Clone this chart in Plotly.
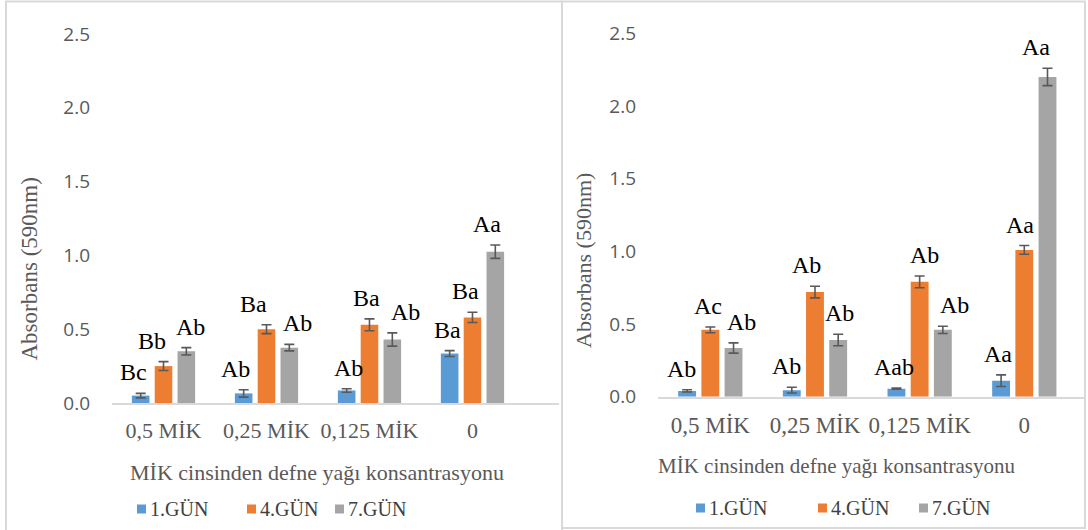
import plotly.graph_objects as go

categories = ["0,5 MİK", "0,25 MİK", "0,125 MİK", "0"]
series_names = ["1.GÜN", "4.GÜN", "7.GÜN"]
colors = ["#5B9BD5", "#ED7D31", "#A5A5A5"]

# Left panel
left_values = [
    [0.05, 0.065, 0.085, 0.335],
    [0.25, 0.50, 0.53, 0.58],
    [0.35, 0.375, 0.43, 1.025],
]
left_errors = [
    [0.015, 0.025, 0.012, 0.02],
    [0.03, 0.03, 0.04, 0.035],
    [0.025, 0.022, 0.045, 0.045],
]
left_labels = [
    ["Bc", "Ab", "Ab", "Ba"],
    ["Bb", "Ba", "Ba", "Ba"],
    ["Ab", "Ab", "Ab", "Aa"],
]
# horizontal nudges of the letter labels (px), as placed in the original
left_label_dx = [
    [-7, -8, 2, -2],
    [-12, -13, -3, -7],
    [4, 8, 13, -8],
]

# Right panel
right_values = [
    [0.04, 0.045, 0.055, 0.11],
    [0.46, 0.72, 0.79, 1.01],
    [0.335, 0.39, 0.46, 2.20],
]
right_errors = [
    [0.008, 0.02, 0.004, 0.04],
    [0.02, 0.04, 0.04, 0.03],
    [0.035, 0.04, 0.025, 0.06],
]
right_labels = [
    ["Ab", "Ab", "Aab", "Aa"],
    ["Ac", "Ab", "Ab", "Aa"],
    ["Ab", "Ab", "Ab", "Aa"],
]
right_label_dx = [
    [-6, -5, -2, -3],
    [-2, -8, 5, -4],
    [8, 1, 12, -12],
]

y_ticks = [0.0, 0.5, 1.0, 1.5, 2.0, 2.5]
y_title = "Absorbans (590nm)"
x_title = "MİK cinsinden defne yağı konsantrasyonu"

W, H = 1088, 530
SERIF = "Liberation Serif, Times New Roman, serif"
SANS = "Open Sans, Noto Sans, sans-serif"
GRAY_TXT = "#595959"
BARGAP = 0.335
BARGROUPGAP = 0.23
slot = (1 - BARGAP) / 3

fig = go.Figure()
xpos = list(range(len(categories)))

panels = [
    ("x", "y", left_values, left_errors, left_labels, left_label_dx),
    ("x2", "y2", right_values, right_errors, right_labels, right_label_dx),
]
annotations = []
for xa, ya, vals, errs, labs, dxs in panels:
    for j, name in enumerate(series_names):
        fig.add_trace(go.Bar(
            x=xpos, y=vals[j], name=name, xaxis=xa, yaxis=ya,
            marker=dict(color=colors[j], line=dict(width=0)),
            error_y=dict(type="data", array=errs[j], visible=True,
                         color="#595959", thickness=1.6, width=5),
            showlegend=False,
        ))
        for i in range(len(categories)):
            annotations.append(dict(
                x=i + (j - 1) * slot, y=vals[j][i] + errs[j][i],
                xref=xa, yref=ya, text=labs[j][i], showarrow=False,
                xanchor="center", yanchor="bottom", yshift=6, xshift=dxs[j][i],
                font=dict(family=SERIF, size=24, color="#000000"),
            ))

def xaxis_cfg(domain, rng, fs, anchor):
    return dict(domain=domain, range=rng, tickvals=xpos, ticktext=categories,
                showgrid=False, zeroline=False, showline=True, anchor=anchor,
                linecolor="#D9D9D9", linewidth=1.5, ticks="",
                ticklabelstandoff=7, automargin=False,
                tickfont=dict(family=SERIF, size=fs, color=GRAY_TXT),
                fixedrange=True)

def yaxis_cfg(domain, anchor):
    return dict(domain=domain, range=[0, 2.5], tickvals=y_ticks,
                tickformat=".1f", showgrid=False, zeroline=False,
                showline=False, ticks="", anchor=anchor, automargin=False,
                ticklabelstandoff=21,
                tickfont=dict(family=SANS, size=19, color=GRAY_TXT),
                fixedrange=True)

fig.update_layout(
    template="none",
    width=W, height=H, autosize=False,
    margin=dict(l=0, r=0, t=0, b=0, pad=0, autoexpand=False),
    paper_bgcolor="white", plot_bgcolor="white",
    barmode="group", bargap=BARGAP, bargroupgap=BARGROUPGAP,
    xaxis=xaxis_cfg([112 / W, 559 / W], [-0.5, 3.84], 22, "y"),
    yaxis=yaxis_cfg([(H - 403) / H, (H - 34) / H], "x"),
    xaxis2=xaxis_cfg([658 / W, 1085 / W], [-0.5, 3.58], 23, "y2"),
    yaxis2=yaxis_cfg([(H - 396.7) / H, (H - 33.3) / H], "x2"),
    showlegend=False,
)

# Axis titles
for cx, cy, fs in [(28.5, 269, 23), (583, 261, 22)]:
    annotations.append(dict(x=cx / W, y=1 - cy / H, xref="paper", yref="paper",
                            text=y_title, textangle=-90, showarrow=False,
                            xanchor="center", yanchor="middle",
                            font=dict(family=SERIF, size=fs, color=GRAY_TXT)))
for cx, cy, fs in [(317, 472, 22), (836, 466, 21)]:
    annotations.append(dict(x=cx / W, y=1 - cy / H, xref="paper", yref="paper",
                            text=x_title, showarrow=False,
                            xanchor="center", yanchor="middle",
                            font=dict(family=SERIF, size=fs, color=GRAY_TXT)))

# Manual legends
shapes = []
legend_items = [
    ([137, 247, 335], 509),
    ([696, 818, 919], 508),
]
for xs, cy in legend_items:
    for k, sx in enumerate(xs):
        shapes.append(dict(type="rect", xref="paper", yref="paper",
                           x0=sx / W, x1=(sx + 9) / W,
                           y0=1 - (cy + 4.5) / H, y1=1 - (cy - 4.5) / H,
                           fillcolor=colors[k], line=dict(width=0)))
        annotations.append(dict(x=(sx + 11) / W, y=1 - cy / H, xref="paper",
                                yref="paper", text=series_names[k],
                                showarrow=False, xanchor="left",
                                yanchor="middle",
                                font=dict(family=SERIF, size=20, color="#404040")))

# Frames
frame = dict(type="rect", xref="paper", yref="paper", fillcolor="rgba(0,0,0,0)",
             line=dict(color="#D9D9D9", width=2))
shapes.append(frame | dict(x0=6 / W, x1=562 / W, y0=-0.01, y1=1 - 1.5 / H))
shapes.append(frame | dict(x0=562 / W, x1=1085 / W, y0=1 - 528 / H, y1=1 - 1.5 / H))

fig.update_layout(annotations=annotations, shapes=shapes)
fig.write_html(
    "out.html",
    config={"displayModeBar": False, "responsive": False},
    post_script="document.body.style.margin='0';document.body.style.overflow='hidden';",
)
